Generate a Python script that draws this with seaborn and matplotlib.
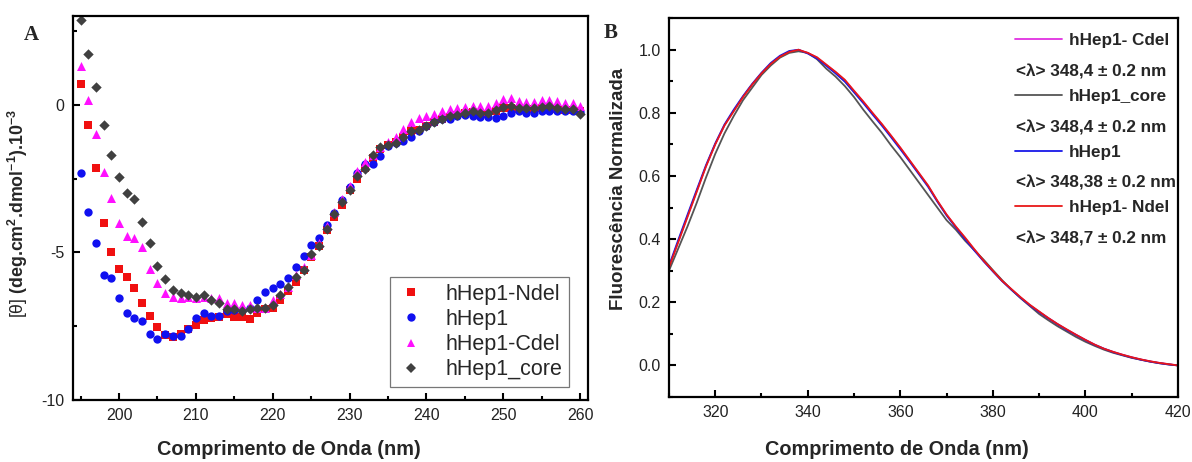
import numpy as np
import pandas as pd
import matplotlib
matplotlib.use("Agg")
import matplotlib.pyplot as plt
from matplotlib.lines import Line2D
from matplotlib.ticker import MultipleLocator, FormatStrFormatter
import seaborn as sns

# ---------------- Panel A data (CD spectra) ----------------
wl_cd = list(range(195, 261))
cd_ndel = [0.71, -0.68, -2.14, -4.0, -5.0, -5.55, -5.85, -6.2, -6.7, -7.17,
           -7.53, -7.8, -7.85, -7.75, -7.6, -7.45, -7.3, -7.24, -7.2, -7.1,
           -7.2, -7.2, -7.25, -7.07, -6.93, -6.87, -6.6, -6.3, -6.0, -5.6,
           -5.17, -4.8, -4.25, -3.8, -3.4, -2.9, -2.52, -2.15, -1.8, -1.5,
           -1.35, -1.25, -1.1, -0.9, -0.85, -0.72, -0.58, -0.48, -0.42, -0.36,
           -0.29, -0.26, -0.3, -0.3, -0.2, -0.12, -0.1, -0.14, -0.15, -0.14,
           -0.1, -0.1, -0.14, -0.17, -0.18, -0.23]
cd_hhep1 = [-2.32, -3.63, -4.68, -5.78, -5.88, -6.53, -7.07, -7.22, -7.34, -7.78,
            -7.92, -7.75, -7.82, -7.82, -7.58, -7.22, -7.05, -7.14, -7.14, -7.0,
            -6.95, -6.95, -6.9, -6.63, -6.33, -6.2, -6.08, -5.88, -5.5, -5.13,
            -4.76, -4.5, -4.08, -3.67, -3.22, -2.78, -2.32, -2.0, -2.0, -1.73,
            -1.4, -1.3, -1.22, -1.08, -0.9, -0.71, -0.57, -0.5, -0.47, -0.4,
            -0.34, -0.37, -0.42, -0.42, -0.45, -0.37, -0.27, -0.23, -0.27, -0.27,
            -0.23, -0.2, -0.23, -0.23, -0.23, -0.25]
cd_cdel = [1.3, 0.15, -1.0, -2.27, -3.17, -4.0, -4.45, -4.5, -4.83, -5.55,
           -6.05, -6.36, -6.5, -6.53, -6.5, -6.53, -6.5, -6.55, -6.53, -6.7,
           -6.7, -6.77, -6.8, -6.87, -6.87, -6.63, -6.4, -6.17, -5.78, -5.5,
           -5.1, -4.7, -4.1, -3.65, -3.2, -2.75, -2.25, -1.95, -1.7, -1.45,
           -1.25, -1.1, -0.82, -0.6, -0.45, -0.4, -0.3, -0.2, -0.15, -0.1,
           -0.07, -0.05, -0.03, -0.03, 0.06, 0.19, 0.22, 0.13, 0.1, 0.1,
           0.17, 0.17, 0.13, 0.07, 0.05, -0.03]
cd_core = [2.87, 1.73, 0.6, -0.68, -1.7, -2.44, -3.0, -3.2, -3.97, -4.7,
           -5.46, -5.9, -6.27, -6.36, -6.43, -6.5, -6.43, -6.6, -6.7, -6.93,
           -6.93, -7.0, -6.93, -6.9, -6.9, -6.8, -6.45, -6.17, -5.85, -5.6,
           -5.07, -4.8, -4.2, -3.7, -3.3, -2.9, -2.4, -2.18, -1.7, -1.42,
           -1.36, -1.3, -1.08, -0.88, -0.85, -0.71, -0.57, -0.47, -0.4, -0.34,
           -0.27, -0.23, -0.27, -0.28, -0.17, -0.09, -0.06, -0.12, -0.12, -0.12,
           -0.08, -0.06, -0.12, -0.15, -0.15, -0.3]
cd_names = ["hHep1-Ndel", "hHep1", "hHep1-Cdel", "hHep1_core"]

# ---------------- Panel B data (fluorescence) ----------------
wl_fl = list(range(310, 421, 2))
fl_red = [0.31, 0.39, 0.47, 0.55, 0.63, 0.70, 0.76, 0.805, 0.85, 0.89,
          0.925, 0.955, 0.978, 0.993, 1.0, 0.99, 0.976, 0.953, 0.93, 0.905,
          0.87, 0.836, 0.80, 0.765, 0.728, 0.69, 0.65, 0.61, 0.57, 0.522,
          0.478, 0.44, 0.405, 0.368, 0.332, 0.30, 0.268, 0.242, 0.216, 0.192,
          0.171, 0.15, 0.131, 0.114, 0.097, 0.081, 0.066, 0.053, 0.043, 0.034,
          0.026, 0.019, 0.013, 0.008, 0.004, 0.0]
fl_blue = [0.315, 0.397, 0.477, 0.556, 0.634, 0.703, 0.763, 0.81, 0.853, 0.892,
           0.927, 0.958, 0.981, 0.996, 1.0, 0.988, 0.972, 0.949, 0.925, 0.899,
           0.865, 0.831, 0.795, 0.76, 0.723, 0.685, 0.646, 0.606, 0.566, 0.519,
           0.475, 0.437, 0.4, 0.364, 0.33, 0.298, 0.267, 0.24, 0.214, 0.19,
           0.169, 0.149, 0.13, 0.112, 0.096, 0.08, 0.065, 0.053, 0.042, 0.033,
           0.025, 0.018, 0.012, 0.007, 0.003, 0.0]
fl_magenta = [0.312, 0.392, 0.472, 0.552, 0.631, 0.701, 0.761, 0.807, 0.851, 0.89,
              0.925, 0.955, 0.979, 0.994, 0.999, 0.99, 0.975, 0.952, 0.929, 0.903,
              0.869, 0.835, 0.799, 0.764, 0.727, 0.689, 0.649, 0.609, 0.569, 0.521,
              0.477, 0.439, 0.403, 0.367, 0.331, 0.299, 0.268, 0.241, 0.215, 0.191,
              0.17, 0.15, 0.131, 0.113, 0.097, 0.081, 0.066, 0.053, 0.043, 0.034,
              0.026, 0.019, 0.013, 0.008, 0.004, 0.0]
fl_gray = [0.30, 0.37, 0.44, 0.515, 0.595, 0.67, 0.735, 0.79, 0.84, 0.88,
           0.92, 0.95, 0.975, 0.99, 0.995, 0.99, 0.97, 0.94, 0.915, 0.885,
           0.85, 0.81, 0.773, 0.737, 0.697, 0.66, 0.62, 0.58, 0.54, 0.50,
           0.46, 0.43, 0.395, 0.365, 0.335, 0.302, 0.27, 0.24, 0.213, 0.188,
           0.163, 0.143, 0.124, 0.107, 0.09, 0.075, 0.062, 0.05, 0.04, 0.032,
           0.024, 0.018, 0.012, 0.007, 0.003, 0.0]
fl_names = ["hHep1- Cdel", "hHep1_core", "hHep1", "hHep1- Ndel"]
fl_lambda = ["<\u03bb> 348,4 \u00b1 0.2 nm", "<\u03bb> 348,4 \u00b1 0.2 nm",
             "<\u03bb> 348,38 \u00b1 0.2 nm", "<\u03bb> 348,7 \u00b1 0.2 nm"]

# ---------------- Style ----------------
sns.set_style("ticks")
plt.rcParams["font.family"] = ["Liberation Sans", "DejaVu Sans"]
plt.rcParams["axes.unicode_minus"] = False
plt.rcParams["mathtext.fontset"] = "custom"
plt.rcParams["mathtext.rm"] = "Liberation Sans"
plt.rcParams["mathtext.bf"] = "Liberation Sans:bold"
plt.rcParams["mathtext.it"] = "Liberation Sans:italic"
plt.rcParams["mathtext.default"] = "bf"

fig = plt.figure(figsize=(11.92, 4.62), dpi=100)
axA = fig.add_axes([0.0612, 0.1342, 0.432, 0.831])
axB = fig.add_axes([0.5612, 0.1407, 0.427, 0.820])

tick_col = "#222222"


def style_axes(ax):
    for s in ax.spines.values():
        s.set_linewidth(1.6)
        s.set_color("black")
        s.set_visible(True)
    ax.tick_params(which="both", direction="in", top=False, right=False,
                   width=1.5, colors="black", labelcolor=tick_col,
                   labelsize=11.5)
    ax.tick_params(which="major", length=5, pad=6)
    ax.tick_params(which="minor", length=3)


# ---------------- Panel A ----------------
cd_df = pd.DataFrame({
    "wl": wl_cd * 4,
    "val": cd_ndel + cd_hhep1 + cd_cdel + cd_core,
    "serie": sum([[n] * len(wl_cd) for n in cd_names], []),
})
cd_colors = {"hHep1-Ndel": "#f01010", "hHep1": "#1010f0",
             "hHep1-Cdel": "#ff10ff", "hHep1_core": "#404040"}
cd_markers = {"hHep1-Ndel": "s", "hHep1": "o", "hHep1-Cdel": "^",
              "hHep1_core": "D"}
cd_sizes = {"hHep1-Ndel": 26, "hHep1": 36, "hHep1-Cdel": 42, "hHep1_core": 28}
for n in cd_names:
    sns.scatterplot(data=cd_df[cd_df["serie"] == n], x="wl", y="val", ax=axA,
                    color=cd_colors[n], marker=cd_markers[n], s=cd_sizes[n],
                    linewidth=0, label=n, legend=False)

axA.set_xlim(194, 261)
axA.set_ylim(-10, 3)
axA.xaxis.set_major_locator(MultipleLocator(10))
axA.xaxis.set_minor_locator(MultipleLocator(5))
axA.yaxis.set_major_locator(MultipleLocator(5))
axA.yaxis.set_minor_locator(MultipleLocator(2.5))
style_axes(axA)
axA.set_xlabel("Comprimento de Onda (nm)", fontsize=14.3, fontweight="bold")
axA.xaxis.set_label_coords(0.42, -0.105)
axA.set_ylabel(r"$\mathrm{[\theta]}$ (deg.cm$^{2}$.dmol$^{-1}$).10$^{-3}$",
               fontsize=12.8, fontweight="bold")
axA.yaxis.set_label_coords(-0.083, 0.487)

handlesA = [Line2D([], [], linestyle="none", marker=cd_markers[n],
                   markersize=6 if cd_markers[n] != "D" else 5.5,
                   markerfacecolor=cd_colors[n], markeredgewidth=0)
            for n in cd_names]
legA = axA.legend(handlesA, cd_names, loc="lower right",
                  bbox_to_anchor=(0.963, 0.034), borderaxespad=0,
                  fontsize=15.5, frameon=True, fancybox=False,
                  edgecolor="#777777", framealpha=1, labelspacing=0.2,
                  handletextpad=0.9, borderpad=0.3, handlelength=1.4)
legA.get_frame().set_linewidth(0.9)

# ---------------- Panel B ----------------
fl_df = pd.DataFrame({
    "wl": wl_fl * 4,
    "val": fl_magenta + fl_gray + fl_blue + fl_red,
    "serie": sum([[n] * len(wl_fl) for n in fl_names], []),
})
fl_palette = {"hHep1- Cdel": "#e030e0", "hHep1_core": "#555555",
              "hHep1": "#1818e8", "hHep1- Ndel": "#e81818"}
sns.lineplot(data=fl_df, x="wl", y="val", hue="serie", hue_order=fl_names,
             palette=fl_palette, ax=axB, linewidth=1.3, estimator=None,
             sort=False, legend=False)

axB.set_xlim(310, 420)
axB.set_ylim(-0.1, 1.1)
axB.xaxis.set_major_locator(MultipleLocator(20))
axB.xaxis.set_minor_locator(MultipleLocator(10))
axB.yaxis.set_major_locator(MultipleLocator(0.2))
axB.yaxis.set_minor_locator(MultipleLocator(0.1))
axB.yaxis.set_major_formatter(FormatStrFormatter("%.1f"))
style_axes(axB)
axB.set_xlabel("Comprimento de Onda (nm)", fontsize=14.3, fontweight="bold")
axB.xaxis.set_label_coords(0.448, -0.113)
axB.set_ylabel("Fluorescência Normalizada", fontsize=13.5, fontweight="bold")
axB.yaxis.set_label_coords(-0.083, 0.55)

handlesB = [Line2D([], [], color=fl_palette[n], linewidth=1.3) for n in fl_names]
legB1 = axB.legend(handlesB, fl_names, loc="upper left",
                   bbox_to_anchor=(0.680, 0.960), borderaxespad=0,
                   borderpad=0, frameon=False, handlelength=2.75,
                   handletextpad=0.4, labelspacing=2.38,
                   prop={"weight": "bold", "size": 12.3})
axB.add_artist(legB1)
blank = [Line2D([], [], linestyle="none") for _ in fl_lambda]
legB2 = axB.legend(blank, fl_lambda, loc="upper left",
                   bbox_to_anchor=(0.682, 0.878), borderaxespad=0,
                   borderpad=0, frameon=False, handlelength=0,
                   handletextpad=0, labelspacing=2.38,
                   prop={"weight": "bold", "size": 12.3})

# panel letters
fig.text(31 / 1192, 1 - 35 / 462, "A", fontsize=15, fontweight="bold",
         family="Liberation Serif", ha="center", va="center")
fig.text(611 / 1192, 1 - 33 / 462, "B", fontsize=15, fontweight="bold",
         family="Liberation Serif", ha="center", va="center")

fig.savefig("out.png", dpi=100)
